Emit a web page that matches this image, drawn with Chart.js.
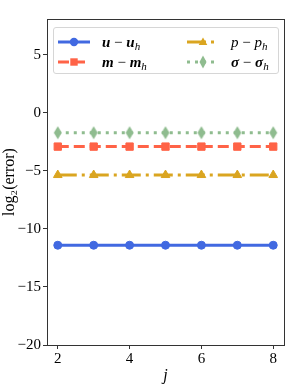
<!DOCTYPE html>
<html>
<head>
<meta charset="utf-8">
<script src="https://cdn.jsdelivr.net/npm/chart.js@4"></script>
<style>
  html, body { margin: 0; padding: 0; background: #fff; }
  #wrap { position: relative; width: 299px; height: 389px; }
  #legenda {
    position: absolute; left: 53px; top: 27px; width: 224px; height: 45px;
    border: 1px solid #d6d6d6; border-radius: 3px; background: rgba(255,255,255,0.8);
    font-family: 'Liberation Serif', 'DejaVu Serif', serif; font-size: 15px; color: #000;
  }
  .item { position: absolute; height: 20px; line-height: 20px; white-space: nowrap; }
  .item svg { position: absolute; left: 0; top: 5px; }
  .item span { position: absolute; left: 44px; top: 0; }
  .item sub { font-size: 11px; font-style: italic; vertical-align: -3px; line-height: 0; }
</style>
</head>
<body>
<div id="wrap">
  <canvas id="grafico"></canvas>
  <div id="legenda"></div>
</div>
<script>
// ---- data ----
const jValues  = [2, 3, 4, 5, 6, 7, 8];
const errU     = [-11.4, -11.4, -11.4, -11.4, -11.4, -11.4, -11.4];
const errM     = [-2.9, -2.9, -2.9, -2.9, -2.9, -2.9, -2.9];
const errP     = [-5.35, -5.35, -5.35, -5.35, -5.35, -5.35, -5.35];
const errSigma = [-1.7, -1.7, -1.7, -1.7, -1.7, -1.7, -1.7];
const xTicks = [2, 4, 6, 8];
const yTicks = [-20, -15, -10, -5, 0, 5];

const FONT = "'Liberation Serif', 'DejaVu Serif', serif";
const AXIS = "#333";

// thin diamond marker
function thinDiamond(color) {
    let c = document.createElement("canvas");
    c.width = 10; c.height = 14;
    let g = c.getContext("2d");
    g.fillStyle = color;
    g.beginPath();
    g.moveTo(5, 0.5); g.lineTo(9, 7); g.lineTo(5, 13.5); g.lineTo(1, 7);
    g.closePath();
    g.fill();
    return c;
}

function pts(arr) {
    return jValues.map((j, i) => ({ x: j, y: arr[i] }));
}

const series = [
    { key: "u", data: errU, color: "#4169E1", dash: [], style: "circle", radius: 4,
      text: "<b><i>u</i></b> − <b><i>u</i></b><sub>h</sub>" },
    { key: "m", data: errM, color: "#FF6347", dash: [11, 5], style: "rect", radius: 5.2,
      text: "<b><i>m</i></b> − <b><i>m</i></b><sub>h</sub>" },
    { key: "p", data: errP, color: "#DAA520", dash: [19, 5, 3, 5], style: "triangle", radius: 5,
      text: "<i>p</i> − <i>p</i><sub>h</sub>" },
    { key: "s", data: errSigma, color: "#8FBC8F", dash: [3, 5], style: thinDiamond("#8FBC8F"), radius: 6,
      text: "<b><i>σ</i></b> − <b><i>σ</i></b><sub>h</sub>" }
];

// ---- legend (HTML, two columns like matplotlib ncol=2) ----
function marcador(s) {
    let c = s.color;
    if (s.key === "u") return `<circle cx="16" cy="5" r="4.2" fill="${c}"/>`;
    if (s.key === "m") return `<rect x="12.3" y="1.3" width="7.4" height="7.4" fill="${c}"/>`;
    if (s.key === "p") return `<polygon points="16,0.5 20.3,8 11.7,8" fill="${c}"/>`;
    return `<polygon points="16,-1.5 19.5,5 16,11.5 12.5,5" fill="${c}"/>`;
}

const slots = { u: [4, 4], m: [4, 24], p: [133, 4], s: [133, 24] };
let legenda = document.getElementById("legenda");
series.forEach(s => {
    let [lx, ly] = slots[s.key];
    legenda.innerHTML += `
        <div class="item" style="left:${lx}px; top:${ly}px;">
            <svg width="34" height="10" style="overflow:visible">
                <line x1="0" y1="5" x2="32" y2="5" stroke="${s.color}" stroke-width="3"
                      stroke-dasharray="${s.dash.join(",") || "none"}"/>
                ${marcador(s)}
            </svg>
            <span>${s.text}</span>
        </div>`;
});

new Chart(document.getElementById("grafico"), {
    type: "line",
    data: {
        datasets: series.map(s => ({
            label: s.key,
            data: pts(s.data),
            borderColor: s.color,
            backgroundColor: s.color,
            borderWidth: 3,
            borderDash: s.dash,
            pointStyle: s.style,
            pointRadius: s.radius,
            pointBorderWidth: 1,
            pointHoverRadius: s.radius
        }))
    },
    options: {
        responsive: true,
        maintainAspectRatio: false,
        animation: false,
        layout: { padding: { top: 19, right: 15, left: 0, bottom: 0 } },
        plugins: { legend: { display: false }, tooltip: { enabled: false } },
        scales: {
            x: {
                type: "linear",
                min: 1.7,
                max: 8.3,
                afterBuildTicks: s => { s.ticks = xTicks.map(v => ({ value: v })); },
                afterFit: s => { s.height = 44; },
                grid: { drawOnChartArea: false, drawTicks: true, tickLength: 4, color: AXIS },
                border: { display: true, color: AXIS },
                ticks: { color: "#000", font: { family: FONT, size: 15 }, padding: 1, maxRotation: 0 },
                title: { display: true, text: "j", color: "#000", font: { family: FONT, size: 16, style: "italic" }, padding: { top: 0 } }
            },
            // top and right spines of the box
            xTop: {
                type: "linear",
                position: "top",
                min: 1.7,
                max: 8.3,
                afterFit: s => { s.height = 0; },
                grid: { drawOnChartArea: false, drawTicks: false },
                border: { display: true, color: AXIS },
                ticks: { display: false }
            },
            y: {
                type: "linear",
                min: -20,
                max: 8.1,
                afterBuildTicks: s => { s.ticks = yTicks.map(v => ({ value: v })); },
                afterFit: s => { s.width = 47; },
                grid: { drawOnChartArea: false, drawTicks: true, tickLength: 4, color: AXIS },
                border: { display: true, color: AXIS },
                ticks: {
                    color: "#000",
                    font: { family: FONT, size: 15 },
                    padding: 2,
                    callback: v => (v < 0 ? "−" + Math.abs(v) : String(v))
                },
                title: { display: true, text: "log₂(error)", color: "#000", font: { family: FONT, size: 16 }, padding: 0 }
            },
            yRight: {
                type: "linear",
                position: "right",
                min: -20,
                max: 8.1,
                afterFit: s => { s.width = 0; },
                grid: { drawOnChartArea: false, drawTicks: false },
                border: { display: true, color: AXIS },
                ticks: { display: false }
            }
        }
    }
});
</script>
</body>
</html>
